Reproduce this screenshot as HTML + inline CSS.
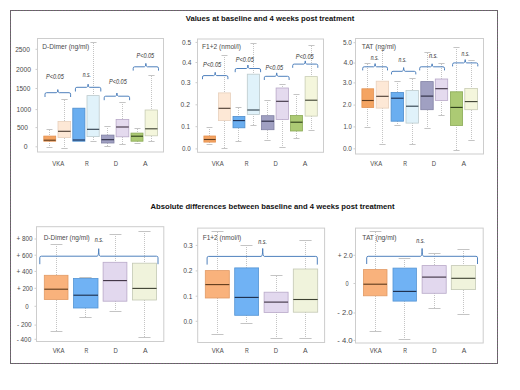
<!DOCTYPE html>
<html><head><meta charset="utf-8"><style>html,body{margin:0;padding:0;background:#fff;width:520px;height:390px;overflow:hidden;}svg{display:block;font-family:"Liberation Sans", sans-serif;}</style></head><body>
<svg width="520" height="390" viewBox="0 0 520 390" font-family='"Liberation Sans", sans-serif'>
<rect width="520" height="390" fill="#fff"/>
<rect x="10.5" y="10.5" width="487" height="353" fill="none" stroke="#5f6f5f" stroke-width="1"/>
<rect x="10.5" y="10.5" width="487" height="353" fill="none" stroke="#7a5a7a" stroke-width="1" stroke-dasharray="1.5 1.5"/>
<rect x="37.5" y="38.5" width="126" height="113.5" fill="none" stroke="#cdcdcd" stroke-width="1"/>
<rect x="197.5" y="39" width="126" height="113.3" fill="none" stroke="#cdcdcd" stroke-width="1"/>
<rect x="355.5" y="38.5" width="128" height="115.5" fill="none" stroke="#cdcdcd" stroke-width="1"/>
<rect x="36.5" y="226.7" width="127.3" height="114.8" fill="none" stroke="#cdcdcd" stroke-width="1"/>
<rect x="197.7" y="228.1" width="126.9" height="114.4" fill="none" stroke="#cdcdcd" stroke-width="1"/>
<rect x="355.5" y="228.1" width="127.7" height="114.9" fill="none" stroke="#cdcdcd" stroke-width="1"/>
<line x1="35.5" y1="49.3" x2="37.5" y2="49.3" stroke="#cdcdcd" stroke-width="1"/>
<text x="15.2" y="51.65" font-size="6.8" text-anchor="start" fill="#4a4a4a" font-weight="normal" font-style="normal" textLength="14.7" lengthAdjust="spacingAndGlyphs">2500</text>
<line x1="35.5" y1="69.4" x2="37.5" y2="69.4" stroke="#cdcdcd" stroke-width="1"/>
<text x="16.1" y="71.75" font-size="6.8" text-anchor="start" fill="#4a4a4a" font-weight="normal" font-style="normal" textLength="15" lengthAdjust="spacingAndGlyphs">2000</text>
<line x1="35.5" y1="88.5" x2="37.5" y2="88.5" stroke="#cdcdcd" stroke-width="1"/>
<text x="15.9" y="90.85" font-size="6.8" text-anchor="start" fill="#4a4a4a" font-weight="normal" font-style="normal" textLength="14.4" lengthAdjust="spacingAndGlyphs">1500</text>
<line x1="35.5" y1="109.6" x2="37.5" y2="109.6" stroke="#cdcdcd" stroke-width="1"/>
<text x="16.6" y="111.95" font-size="6.8" text-anchor="start" fill="#4a4a4a" font-weight="normal" font-style="normal" textLength="14.4" lengthAdjust="spacingAndGlyphs">1000</text>
<line x1="35.5" y1="127.6" x2="37.5" y2="127.6" stroke="#cdcdcd" stroke-width="1"/>
<text x="16.9" y="129.95" font-size="6.8" text-anchor="start" fill="#4a4a4a" font-weight="normal" font-style="normal" textLength="11" lengthAdjust="spacingAndGlyphs">500</text>
<line x1="35.5" y1="146.8" x2="37.5" y2="146.8" stroke="#cdcdcd" stroke-width="1"/>
<text x="23.8" y="149.15" font-size="6.8" text-anchor="start" fill="#4a4a4a" font-weight="normal" font-style="normal" textLength="3.8" lengthAdjust="spacingAndGlyphs">0</text>
<line x1="195.5" y1="42.4" x2="197.5" y2="42.4" stroke="#cdcdcd" stroke-width="1"/>
<text x="182" y="44.75" font-size="6.8" text-anchor="start" fill="#4a4a4a" font-weight="normal" font-style="normal" textLength="9.1" lengthAdjust="spacingAndGlyphs">0.5</text>
<line x1="195.5" y1="62.5" x2="197.5" y2="62.5" stroke="#cdcdcd" stroke-width="1"/>
<text x="182.2" y="64.85" font-size="6.8" text-anchor="start" fill="#4a4a4a" font-weight="normal" font-style="normal" textLength="9.2" lengthAdjust="spacingAndGlyphs">0.4</text>
<line x1="195.5" y1="82.7" x2="197.5" y2="82.7" stroke="#cdcdcd" stroke-width="1"/>
<text x="181" y="85.05" font-size="6.8" text-anchor="start" fill="#4a4a4a" font-weight="normal" font-style="normal" textLength="9.4" lengthAdjust="spacingAndGlyphs">0.3</text>
<line x1="195.5" y1="104.8" x2="197.5" y2="104.8" stroke="#cdcdcd" stroke-width="1"/>
<text x="180.6" y="107.15" font-size="6.8" text-anchor="start" fill="#4a4a4a" font-weight="normal" font-style="normal" textLength="9.3" lengthAdjust="spacingAndGlyphs">0.2</text>
<line x1="195.5" y1="126.7" x2="197.5" y2="126.7" stroke="#cdcdcd" stroke-width="1"/>
<text x="181.3" y="129.05" font-size="6.8" text-anchor="start" fill="#4a4a4a" font-weight="normal" font-style="normal" textLength="8.7" lengthAdjust="spacingAndGlyphs">0.1</text>
<line x1="195.5" y1="148.9" x2="197.5" y2="148.9" stroke="#cdcdcd" stroke-width="1"/>
<text x="182.1" y="151.25" font-size="6.8" text-anchor="start" fill="#4a4a4a" font-weight="normal" font-style="normal" textLength="8.7" lengthAdjust="spacingAndGlyphs">0.0</text>
<line x1="353.5" y1="42.7" x2="355.5" y2="42.7" stroke="#cdcdcd" stroke-width="1"/>
<text x="343" y="45.05" font-size="6.8" text-anchor="start" fill="#4a4a4a" font-weight="normal" font-style="normal" textLength="8.9" lengthAdjust="spacingAndGlyphs">5.0</text>
<line x1="353.5" y1="63.1" x2="355.5" y2="63.1" stroke="#cdcdcd" stroke-width="1"/>
<text x="343.5" y="65.45" font-size="6.8" text-anchor="start" fill="#4a4a4a" font-weight="normal" font-style="normal" textLength="9.5" lengthAdjust="spacingAndGlyphs">4.0</text>
<line x1="353.5" y1="82.9" x2="355.5" y2="82.9" stroke="#cdcdcd" stroke-width="1"/>
<text x="342.7" y="85.25" font-size="6.8" text-anchor="start" fill="#4a4a4a" font-weight="normal" font-style="normal" textLength="9.2" lengthAdjust="spacingAndGlyphs">3.0</text>
<line x1="353.5" y1="105.1" x2="355.5" y2="105.1" stroke="#cdcdcd" stroke-width="1"/>
<text x="342.7" y="107.45" font-size="6.8" text-anchor="start" fill="#4a4a4a" font-weight="normal" font-style="normal" textLength="8.7" lengthAdjust="spacingAndGlyphs">2.0</text>
<line x1="353.5" y1="126.9" x2="355.5" y2="126.9" stroke="#cdcdcd" stroke-width="1"/>
<text x="343.5" y="129.25" font-size="6.8" text-anchor="start" fill="#4a4a4a" font-weight="normal" font-style="normal" textLength="8.4" lengthAdjust="spacingAndGlyphs">1.0</text>
<line x1="353.5" y1="148.8" x2="355.5" y2="148.8" stroke="#cdcdcd" stroke-width="1"/>
<text x="343" y="151.15" font-size="6.8" text-anchor="start" fill="#4a4a4a" font-weight="normal" font-style="normal" textLength="8.9" lengthAdjust="spacingAndGlyphs">0.0</text>
<line x1="34.5" y1="239" x2="36.5" y2="239" stroke="#cdcdcd" stroke-width="1"/>
<text x="16.5" y="241.35" font-size="6.8" text-anchor="start" fill="#4a4a4a" font-weight="normal" font-style="normal" textLength="16" lengthAdjust="spacingAndGlyphs">+ 800</text>
<line x1="34.5" y1="255.2" x2="36.5" y2="255.2" stroke="#cdcdcd" stroke-width="1"/>
<text x="16.5" y="257.55" font-size="6.8" text-anchor="start" fill="#4a4a4a" font-weight="normal" font-style="normal" textLength="16" lengthAdjust="spacingAndGlyphs">+ 600</text>
<line x1="34.5" y1="271.4" x2="36.5" y2="271.4" stroke="#cdcdcd" stroke-width="1"/>
<text x="16.5" y="273.75" font-size="6.8" text-anchor="start" fill="#4a4a4a" font-weight="normal" font-style="normal" textLength="16" lengthAdjust="spacingAndGlyphs">+ 400</text>
<line x1="34.5" y1="288.3" x2="36.5" y2="288.3" stroke="#cdcdcd" stroke-width="1"/>
<text x="17" y="290.65" font-size="6.8" text-anchor="start" fill="#4a4a4a" font-weight="normal" font-style="normal" textLength="15.8" lengthAdjust="spacingAndGlyphs">+ 200</text>
<line x1="34.5" y1="306.3" x2="36.5" y2="306.3" stroke="#cdcdcd" stroke-width="1"/>
<text x="25.3" y="308.65" font-size="6.8" text-anchor="start" fill="#4a4a4a" font-weight="normal" font-style="normal" textLength="3.4" lengthAdjust="spacingAndGlyphs">0</text>
<line x1="34.5" y1="325.1" x2="36.5" y2="325.1" stroke="#cdcdcd" stroke-width="1"/>
<text x="17" y="327.45" font-size="6.8" text-anchor="start" fill="#4a4a4a" font-weight="normal" font-style="normal" textLength="14.7" lengthAdjust="spacingAndGlyphs">- 200</text>
<line x1="34.5" y1="339.3" x2="36.5" y2="339.3" stroke="#cdcdcd" stroke-width="1"/>
<text x="16.7" y="341.65" font-size="6.8" text-anchor="start" fill="#4a4a4a" font-weight="normal" font-style="normal" textLength="14.5" lengthAdjust="spacingAndGlyphs">- 400</text>
<line x1="195.7" y1="245.4" x2="197.7" y2="245.4" stroke="#cdcdcd" stroke-width="1"/>
<text x="183.5" y="247.75" font-size="6.8" text-anchor="start" fill="#4a4a4a" font-weight="normal" font-style="normal" textLength="9.1" lengthAdjust="spacingAndGlyphs">0.3</text>
<line x1="195.7" y1="270.9" x2="197.7" y2="270.9" stroke="#cdcdcd" stroke-width="1"/>
<text x="183.3" y="273.25" font-size="6.8" text-anchor="start" fill="#4a4a4a" font-weight="normal" font-style="normal" textLength="9.1" lengthAdjust="spacingAndGlyphs">0.2</text>
<line x1="195.7" y1="296.2" x2="197.7" y2="296.2" stroke="#cdcdcd" stroke-width="1"/>
<text x="183.3" y="298.55" font-size="6.8" text-anchor="start" fill="#4a4a4a" font-weight="normal" font-style="normal" textLength="8.9" lengthAdjust="spacingAndGlyphs">0.1</text>
<line x1="195.7" y1="321.3" x2="197.7" y2="321.3" stroke="#cdcdcd" stroke-width="1"/>
<text x="183.5" y="323.65" font-size="6.8" text-anchor="start" fill="#4a4a4a" font-weight="normal" font-style="normal" textLength="8.9" lengthAdjust="spacingAndGlyphs">0.0</text>
<line x1="353.5" y1="255.3" x2="355.5" y2="255.3" stroke="#cdcdcd" stroke-width="1"/>
<text x="337.7" y="257.65" font-size="6.8" text-anchor="start" fill="#4a4a4a" font-weight="normal" font-style="normal" textLength="14.9" lengthAdjust="spacingAndGlyphs">+ 2.0</text>
<line x1="353.5" y1="283.5" x2="355.5" y2="283.5" stroke="#cdcdcd" stroke-width="1"/>
<text x="345.4" y="285.85" font-size="6.8" text-anchor="start" fill="#4a4a4a" font-weight="normal" font-style="normal" textLength="3.1" lengthAdjust="spacingAndGlyphs">0</text>
<line x1="353.5" y1="313" x2="355.5" y2="313" stroke="#cdcdcd" stroke-width="1"/>
<text x="337.2" y="315.35" font-size="6.8" text-anchor="start" fill="#4a4a4a" font-weight="normal" font-style="normal" textLength="15.4" lengthAdjust="spacingAndGlyphs">- 2.0</text>
<line x1="353.5" y1="340.4" x2="355.5" y2="340.4" stroke="#cdcdcd" stroke-width="1"/>
<text x="337.2" y="342.75" font-size="6.8" text-anchor="start" fill="#4a4a4a" font-weight="normal" font-style="normal" textLength="15.4" lengthAdjust="spacingAndGlyphs">- 4.0</text>
<text x="52.35" y="166.35" font-size="6.8" text-anchor="start" fill="#4a4a4a" font-weight="normal" font-style="normal" textLength="11.9" lengthAdjust="spacingAndGlyphs">VKA</text>
<text x="85.1" y="166.35" font-size="6.8" text-anchor="start" fill="#4a4a4a" font-weight="normal" font-style="normal" textLength="3.8" lengthAdjust="spacingAndGlyphs">R</text>
<text x="113.85" y="166.35" font-size="6.8" text-anchor="start" fill="#4a4a4a" font-weight="normal" font-style="normal" textLength="4.3" lengthAdjust="spacingAndGlyphs">D</text>
<text x="143.1" y="166.35" font-size="6.8" text-anchor="start" fill="#4a4a4a" font-weight="normal" font-style="normal" textLength="4.6" lengthAdjust="spacingAndGlyphs">A</text>
<text x="211.75" y="166.35" font-size="6.8" text-anchor="start" fill="#4a4a4a" font-weight="normal" font-style="normal" textLength="11.9" lengthAdjust="spacingAndGlyphs">VKA</text>
<text x="244.7" y="166.35" font-size="6.8" text-anchor="start" fill="#4a4a4a" font-weight="normal" font-style="normal" textLength="3.8" lengthAdjust="spacingAndGlyphs">R</text>
<text x="273.55" y="166.35" font-size="6.8" text-anchor="start" fill="#4a4a4a" font-weight="normal" font-style="normal" textLength="4.3" lengthAdjust="spacingAndGlyphs">D</text>
<text x="302.8" y="166.35" font-size="6.8" text-anchor="start" fill="#4a4a4a" font-weight="normal" font-style="normal" textLength="4.6" lengthAdjust="spacingAndGlyphs">A</text>
<text x="370.35" y="166.35" font-size="6.8" text-anchor="start" fill="#4a4a4a" font-weight="normal" font-style="normal" textLength="11.9" lengthAdjust="spacingAndGlyphs">VKA</text>
<text x="403.2" y="166.35" font-size="6.8" text-anchor="start" fill="#4a4a4a" font-weight="normal" font-style="normal" textLength="3.8" lengthAdjust="spacingAndGlyphs">R</text>
<text x="431.65" y="166.35" font-size="6.8" text-anchor="start" fill="#4a4a4a" font-weight="normal" font-style="normal" textLength="4.3" lengthAdjust="spacingAndGlyphs">D</text>
<text x="461.5" y="166.35" font-size="6.8" text-anchor="start" fill="#4a4a4a" font-weight="normal" font-style="normal" textLength="4.6" lengthAdjust="spacingAndGlyphs">A</text>
<text x="52.65" y="353.35" font-size="6.8" text-anchor="start" fill="#4a4a4a" font-weight="normal" font-style="normal" textLength="11.9" lengthAdjust="spacingAndGlyphs">VKA</text>
<text x="84.6" y="353.35" font-size="6.8" text-anchor="start" fill="#4a4a4a" font-weight="normal" font-style="normal" textLength="3.8" lengthAdjust="spacingAndGlyphs">R</text>
<text x="113.45" y="353.35" font-size="6.8" text-anchor="start" fill="#4a4a4a" font-weight="normal" font-style="normal" textLength="4.3" lengthAdjust="spacingAndGlyphs">D</text>
<text x="143.1" y="353.35" font-size="6.8" text-anchor="start" fill="#4a4a4a" font-weight="normal" font-style="normal" textLength="4.6" lengthAdjust="spacingAndGlyphs">A</text>
<text x="211.85" y="353.35" font-size="6.8" text-anchor="start" fill="#4a4a4a" font-weight="normal" font-style="normal" textLength="11.9" lengthAdjust="spacingAndGlyphs">VKA</text>
<text x="244.9" y="353.35" font-size="6.8" text-anchor="start" fill="#4a4a4a" font-weight="normal" font-style="normal" textLength="3.8" lengthAdjust="spacingAndGlyphs">R</text>
<text x="273.75" y="353.35" font-size="6.8" text-anchor="start" fill="#4a4a4a" font-weight="normal" font-style="normal" textLength="4.3" lengthAdjust="spacingAndGlyphs">D</text>
<text x="302.9" y="353.35" font-size="6.8" text-anchor="start" fill="#4a4a4a" font-weight="normal" font-style="normal" textLength="4.6" lengthAdjust="spacingAndGlyphs">A</text>
<text x="369.85" y="353.35" font-size="6.8" text-anchor="start" fill="#4a4a4a" font-weight="normal" font-style="normal" textLength="11.9" lengthAdjust="spacingAndGlyphs">VKA</text>
<text x="403.2" y="353.35" font-size="6.8" text-anchor="start" fill="#4a4a4a" font-weight="normal" font-style="normal" textLength="3.8" lengthAdjust="spacingAndGlyphs">R</text>
<text x="432.25" y="353.35" font-size="6.8" text-anchor="start" fill="#4a4a4a" font-weight="normal" font-style="normal" textLength="4.3" lengthAdjust="spacingAndGlyphs">D</text>
<text x="461.7" y="353.35" font-size="6.8" text-anchor="start" fill="#4a4a4a" font-weight="normal" font-style="normal" textLength="4.6" lengthAdjust="spacingAndGlyphs">A</text>
<text x="42.3" y="49.25" font-size="6.8" text-anchor="start" fill="#4a4a4a" font-weight="normal" font-style="normal" textLength="46.9" lengthAdjust="spacingAndGlyphs">D-Dimer (ng/ml)</text>
<text x="202.1" y="49.25" font-size="6.8" text-anchor="start" fill="#4a4a4a" font-weight="normal" font-style="normal" textLength="38.9" lengthAdjust="spacingAndGlyphs">F1+2 (nmol/l)</text>
<text x="361.8" y="49.05" font-size="6.8" text-anchor="start" fill="#4a4a4a" font-weight="normal" font-style="normal" textLength="34.2" lengthAdjust="spacingAndGlyphs">TAT (ng/ml)</text>
<text x="43.7" y="240.05" font-size="6.8" text-anchor="start" fill="#4a4a4a" font-weight="normal" font-style="normal" textLength="46.1" lengthAdjust="spacingAndGlyphs">D-Dimer (ng/ml)</text>
<text x="202.7" y="240.05" font-size="6.8" text-anchor="start" fill="#4a4a4a" font-weight="normal" font-style="normal" textLength="38.6" lengthAdjust="spacingAndGlyphs">F1+2 (nmol/l)</text>
<text x="362.3" y="240.05" font-size="6.8" text-anchor="start" fill="#4a4a4a" font-weight="normal" font-style="normal" textLength="34.2" lengthAdjust="spacingAndGlyphs">TAT (ng/ml)</text>
<line x1="49.5" y1="130" x2="49.5" y2="136.1" stroke="#c4c4c4" stroke-width="1" stroke-dasharray="1 1"/>
<line x1="46.52" y1="129.5" x2="52.48" y2="129.5" stroke="#c4c4c4" stroke-width="1"/>
<line x1="49.5" y1="141" x2="49.5" y2="147" stroke="#c4c4c4" stroke-width="1" stroke-dasharray="1 1"/>
<line x1="46.52" y1="147.5" x2="52.48" y2="147.5" stroke="#c4c4c4" stroke-width="1"/>
<rect x="43.8" y="136.1" width="11.9" height="5.1" fill="#f4a462" stroke="#e39050" stroke-width="0.8"/>
<line x1="43.8" y1="140.2" x2="55.7" y2="140.2" stroke="#5e3a1c" stroke-width="1.1"/>
<line x1="64.5" y1="100" x2="64.5" y2="121.5" stroke="#c4c4c4" stroke-width="1" stroke-dasharray="1 1"/>
<line x1="61.35" y1="99.5" x2="67.65" y2="99.5" stroke="#c4c4c4" stroke-width="1"/>
<line x1="64.5" y1="138" x2="64.5" y2="148" stroke="#c4c4c4" stroke-width="1" stroke-dasharray="1 1"/>
<line x1="61.35" y1="148.5" x2="67.65" y2="148.5" stroke="#c4c4c4" stroke-width="1"/>
<rect x="58" y="121.5" width="12.6" height="16" fill="#fde8d6" stroke="#e8d0bc" stroke-width="0.8"/>
<line x1="58" y1="131.3" x2="70.6" y2="131.3" stroke="#4a3a30" stroke-width="1.1"/>
<rect x="72.8" y="108.2" width="12.1" height="33" fill="#6aaef0" stroke="#4c8ccc" stroke-width="0.8"/>
<line x1="72.8" y1="140" x2="84.9" y2="140" stroke="#1c2c50" stroke-width="1.1"/>
<line x1="93.5" y1="43" x2="93.5" y2="95.6" stroke="#c4c4c4" stroke-width="1" stroke-dasharray="1 1"/>
<line x1="90.45" y1="42.5" x2="96.55" y2="42.5" stroke="#c4c4c4" stroke-width="1"/>
<line x1="93.5" y1="137" x2="93.5" y2="141.2" stroke="#c4c4c4" stroke-width="1" stroke-dasharray="1 1"/>
<line x1="90.45" y1="141.5" x2="96.55" y2="141.5" stroke="#c4c4c4" stroke-width="1"/>
<rect x="87" y="95.6" width="12.2" height="41" fill="#e0f2fa" stroke="#bccacc" stroke-width="0.8"/>
<line x1="87" y1="129.3" x2="99.2" y2="129.3" stroke="#2c3c48" stroke-width="1.1"/>
<line x1="107.5" y1="126" x2="107.5" y2="135.1" stroke="#c4c4c4" stroke-width="1" stroke-dasharray="1 1"/>
<line x1="104.38" y1="126.5" x2="110.62" y2="126.5" stroke="#c4c4c4" stroke-width="1"/>
<line x1="107.5" y1="143" x2="107.5" y2="146.2" stroke="#c4c4c4" stroke-width="1" stroke-dasharray="1 1"/>
<line x1="104.38" y1="146.5" x2="110.62" y2="146.5" stroke="#c4c4c4" stroke-width="1"/>
<rect x="101.5" y="135.1" width="12.5" height="7.9" fill="#a0a0c2" stroke="#8080a4" stroke-width="0.8"/>
<line x1="101.5" y1="139.7" x2="114" y2="139.7" stroke="#2a2a40" stroke-width="1.1"/>
<line x1="122.5" y1="102" x2="122.5" y2="119.4" stroke="#c4c4c4" stroke-width="1" stroke-dasharray="1 1"/>
<line x1="119.32" y1="102.5" x2="125.68" y2="102.5" stroke="#c4c4c4" stroke-width="1"/>
<line x1="122.5" y1="137" x2="122.5" y2="144" stroke="#c4c4c4" stroke-width="1" stroke-dasharray="1 1"/>
<line x1="119.32" y1="144.5" x2="125.68" y2="144.5" stroke="#c4c4c4" stroke-width="1"/>
<rect x="116.1" y="119.4" width="12.7" height="17.4" fill="#e4daee" stroke="#b8a8c8" stroke-width="0.8"/>
<line x1="116.1" y1="127" x2="128.8" y2="127" stroke="#3c3040" stroke-width="1.1"/>
<line x1="137.5" y1="129" x2="137.5" y2="133.1" stroke="#c4c4c4" stroke-width="1" stroke-dasharray="1 1"/>
<line x1="134.5" y1="128.5" x2="140.5" y2="128.5" stroke="#c4c4c4" stroke-width="1"/>
<line x1="137.5" y1="141" x2="137.5" y2="143" stroke="#c4c4c4" stroke-width="1" stroke-dasharray="1 1"/>
<line x1="134.5" y1="143.5" x2="140.5" y2="143.5" stroke="#c4c4c4" stroke-width="1"/>
<rect x="131" y="133.1" width="12" height="8.1" fill="#acca74" stroke="#8aaa56" stroke-width="0.8"/>
<line x1="131" y1="136.2" x2="143" y2="136.2" stroke="#2c3c18" stroke-width="1.1"/>
<line x1="151.5" y1="76" x2="151.5" y2="110" stroke="#c4c4c4" stroke-width="1" stroke-dasharray="1 1"/>
<line x1="148.4" y1="75.5" x2="154.6" y2="75.5" stroke="#c4c4c4" stroke-width="1"/>
<line x1="151.5" y1="136" x2="151.5" y2="141.2" stroke="#c4c4c4" stroke-width="1" stroke-dasharray="1 1"/>
<line x1="148.4" y1="141.5" x2="154.6" y2="141.5" stroke="#c4c4c4" stroke-width="1"/>
<rect x="145.1" y="110" width="12.4" height="25.8" fill="#f4f6dc" stroke="#c8ccb4" stroke-width="0.8"/>
<line x1="145.1" y1="128.8" x2="157.5" y2="128.8" stroke="#3c4030" stroke-width="1.1"/>
<line x1="209.5" y1="127" x2="209.5" y2="136" stroke="#c4c4c4" stroke-width="1" stroke-dasharray="1 1"/>
<line x1="206.57" y1="127.5" x2="212.43" y2="127.5" stroke="#c4c4c4" stroke-width="1"/>
<line x1="209.5" y1="142" x2="209.5" y2="144.8" stroke="#c4c4c4" stroke-width="1" stroke-dasharray="1 1"/>
<line x1="206.57" y1="144.5" x2="212.43" y2="144.5" stroke="#c4c4c4" stroke-width="1"/>
<rect x="203.9" y="136" width="11.7" height="6.1" fill="#f4a462" stroke="#e39050" stroke-width="0.8"/>
<line x1="203.9" y1="139.5" x2="215.6" y2="139.5" stroke="#5e3a1c" stroke-width="1.1"/>
<line x1="224.5" y1="55" x2="224.5" y2="92.9" stroke="#c4c4c4" stroke-width="1" stroke-dasharray="1 1"/>
<line x1="221.5" y1="55.5" x2="227.5" y2="55.5" stroke="#c4c4c4" stroke-width="1"/>
<line x1="224.5" y1="121" x2="224.5" y2="148.3" stroke="#c4c4c4" stroke-width="1" stroke-dasharray="1 1"/>
<line x1="221.5" y1="148.5" x2="227.5" y2="148.5" stroke="#c4c4c4" stroke-width="1"/>
<rect x="218.5" y="92.9" width="12" height="27.7" fill="#fde8d6" stroke="#e8d0bc" stroke-width="0.8"/>
<line x1="218.5" y1="108.3" x2="230.5" y2="108.3" stroke="#4a3a30" stroke-width="1.1"/>
<line x1="238.5" y1="108" x2="238.5" y2="116.5" stroke="#c4c4c4" stroke-width="1" stroke-dasharray="1 1"/>
<line x1="235.53" y1="107.5" x2="241.47" y2="107.5" stroke="#c4c4c4" stroke-width="1"/>
<line x1="238.5" y1="128" x2="238.5" y2="141.1" stroke="#c4c4c4" stroke-width="1" stroke-dasharray="1 1"/>
<line x1="235.53" y1="141.5" x2="241.47" y2="141.5" stroke="#c4c4c4" stroke-width="1"/>
<rect x="233" y="116.5" width="11.9" height="11.3" fill="#6aaef0" stroke="#4c8ccc" stroke-width="0.8"/>
<line x1="233" y1="120.6" x2="244.9" y2="120.6" stroke="#1c2c50" stroke-width="1.1"/>
<line x1="253.5" y1="44" x2="253.5" y2="74.2" stroke="#c4c4c4" stroke-width="1" stroke-dasharray="1 1"/>
<line x1="250.45" y1="43.5" x2="256.55" y2="43.5" stroke="#c4c4c4" stroke-width="1"/>
<line x1="253.5" y1="114" x2="253.5" y2="125.7" stroke="#c4c4c4" stroke-width="1" stroke-dasharray="1 1"/>
<line x1="250.45" y1="125.5" x2="256.55" y2="125.5" stroke="#c4c4c4" stroke-width="1"/>
<rect x="247.3" y="74.2" width="12.2" height="40.3" fill="#e0f2fa" stroke="#bccacc" stroke-width="0.8"/>
<line x1="247.3" y1="110" x2="259.5" y2="110" stroke="#2c3c48" stroke-width="1.1"/>
<line x1="267.5" y1="100" x2="267.5" y2="115.7" stroke="#c4c4c4" stroke-width="1" stroke-dasharray="1 1"/>
<line x1="264.38" y1="100.5" x2="270.62" y2="100.5" stroke="#c4c4c4" stroke-width="1"/>
<line x1="267.5" y1="130" x2="267.5" y2="140.5" stroke="#c4c4c4" stroke-width="1" stroke-dasharray="1 1"/>
<line x1="264.38" y1="140.5" x2="270.62" y2="140.5" stroke="#c4c4c4" stroke-width="1"/>
<rect x="261.5" y="115.7" width="12.5" height="14" fill="#a0a0c2" stroke="#8080a4" stroke-width="0.8"/>
<line x1="261.5" y1="121.2" x2="274" y2="121.2" stroke="#2a2a40" stroke-width="1.1"/>
<line x1="282.5" y1="84" x2="282.5" y2="88" stroke="#c4c4c4" stroke-width="1" stroke-dasharray="1 1"/>
<line x1="279.4" y1="84.5" x2="285.6" y2="84.5" stroke="#c4c4c4" stroke-width="1"/>
<line x1="282.5" y1="119" x2="282.5" y2="147.1" stroke="#c4c4c4" stroke-width="1" stroke-dasharray="1 1"/>
<line x1="279.4" y1="147.5" x2="285.6" y2="147.5" stroke="#c4c4c4" stroke-width="1"/>
<rect x="276.1" y="88" width="12.4" height="31.4" fill="#e4daee" stroke="#b8a8c8" stroke-width="0.8"/>
<line x1="276.1" y1="101.3" x2="288.5" y2="101.3" stroke="#3c3040" stroke-width="1.1"/>
<line x1="296.5" y1="94" x2="296.5" y2="115.5" stroke="#c4c4c4" stroke-width="1" stroke-dasharray="1 1"/>
<line x1="293.5" y1="94.5" x2="299.5" y2="94.5" stroke="#c4c4c4" stroke-width="1"/>
<line x1="296.5" y1="131" x2="296.5" y2="138" stroke="#c4c4c4" stroke-width="1" stroke-dasharray="1 1"/>
<line x1="293.5" y1="138.5" x2="299.5" y2="138.5" stroke="#c4c4c4" stroke-width="1"/>
<rect x="290.5" y="115.5" width="12" height="15.5" fill="#acca74" stroke="#8aaa56" stroke-width="0.8"/>
<line x1="290.5" y1="122.2" x2="302.5" y2="122.2" stroke="#2c3c18" stroke-width="1.1"/>
<line x1="311.5" y1="46" x2="311.5" y2="76.6" stroke="#c4c4c4" stroke-width="1" stroke-dasharray="1 1"/>
<line x1="308.45" y1="45.5" x2="314.55" y2="45.5" stroke="#c4c4c4" stroke-width="1"/>
<line x1="311.5" y1="116" x2="311.5" y2="130.3" stroke="#c4c4c4" stroke-width="1" stroke-dasharray="1 1"/>
<line x1="308.45" y1="130.5" x2="314.55" y2="130.5" stroke="#c4c4c4" stroke-width="1"/>
<rect x="305.1" y="76.6" width="12.2" height="39.5" fill="#f4f6dc" stroke="#c8ccb4" stroke-width="0.8"/>
<line x1="305.1" y1="100.2" x2="317.3" y2="100.2" stroke="#3c4030" stroke-width="1.1"/>
<line x1="367.5" y1="64" x2="367.5" y2="88.8" stroke="#c4c4c4" stroke-width="1" stroke-dasharray="1 1"/>
<line x1="364.55" y1="63.5" x2="370.45" y2="63.5" stroke="#c4c4c4" stroke-width="1"/>
<line x1="367.5" y1="107" x2="367.5" y2="127.2" stroke="#c4c4c4" stroke-width="1" stroke-dasharray="1 1"/>
<line x1="364.55" y1="127.5" x2="370.45" y2="127.5" stroke="#c4c4c4" stroke-width="1"/>
<rect x="361.9" y="88.8" width="11.8" height="18.6" fill="#f4a462" stroke="#e39050" stroke-width="0.8"/>
<line x1="361.9" y1="100.5" x2="373.7" y2="100.5" stroke="#5e3a1c" stroke-width="1.1"/>
<line x1="382.5" y1="47" x2="382.5" y2="81.2" stroke="#c4c4c4" stroke-width="1" stroke-dasharray="1 1"/>
<line x1="379.4" y1="47.5" x2="385.6" y2="47.5" stroke="#c4c4c4" stroke-width="1"/>
<line x1="382.5" y1="108" x2="382.5" y2="144.3" stroke="#c4c4c4" stroke-width="1" stroke-dasharray="1 1"/>
<line x1="379.4" y1="144.5" x2="385.6" y2="144.5" stroke="#c4c4c4" stroke-width="1"/>
<rect x="376.2" y="81.2" width="12.4" height="26.9" fill="#fde8d6" stroke="#e8d0bc" stroke-width="0.8"/>
<line x1="376.2" y1="96.3" x2="388.6" y2="96.3" stroke="#4a3a30" stroke-width="1.1"/>
<line x1="397.5" y1="81" x2="397.5" y2="92.5" stroke="#c4c4c4" stroke-width="1" stroke-dasharray="1 1"/>
<line x1="394.4" y1="81.5" x2="400.6" y2="81.5" stroke="#c4c4c4" stroke-width="1"/>
<line x1="397.5" y1="121" x2="397.5" y2="125.4" stroke="#c4c4c4" stroke-width="1" stroke-dasharray="1 1"/>
<line x1="394.4" y1="125.5" x2="400.6" y2="125.5" stroke="#c4c4c4" stroke-width="1"/>
<rect x="391.1" y="92.5" width="12.4" height="28.7" fill="#6aaef0" stroke="#4c8ccc" stroke-width="0.8"/>
<line x1="391.1" y1="98.2" x2="403.5" y2="98.2" stroke="#1c2c50" stroke-width="1.1"/>
<line x1="412.5" y1="79" x2="412.5" y2="90.5" stroke="#c4c4c4" stroke-width="1" stroke-dasharray="1 1"/>
<line x1="409.4" y1="78.5" x2="415.6" y2="78.5" stroke="#c4c4c4" stroke-width="1"/>
<line x1="412.5" y1="123" x2="412.5" y2="144.3" stroke="#c4c4c4" stroke-width="1" stroke-dasharray="1 1"/>
<line x1="409.4" y1="144.5" x2="415.6" y2="144.5" stroke="#c4c4c4" stroke-width="1"/>
<rect x="406" y="90.5" width="12.4" height="32.6" fill="#e0f2fa" stroke="#bccacc" stroke-width="0.8"/>
<line x1="406" y1="106.2" x2="418.4" y2="106.2" stroke="#2c3c48" stroke-width="1.1"/>
<line x1="427.5" y1="53" x2="427.5" y2="81.6" stroke="#c4c4c4" stroke-width="1" stroke-dasharray="1 1"/>
<line x1="424.4" y1="52.5" x2="430.6" y2="52.5" stroke="#c4c4c4" stroke-width="1"/>
<line x1="427.5" y1="110" x2="427.5" y2="128.8" stroke="#c4c4c4" stroke-width="1" stroke-dasharray="1 1"/>
<line x1="424.4" y1="128.5" x2="430.6" y2="128.5" stroke="#c4c4c4" stroke-width="1"/>
<rect x="420.8" y="81.6" width="12.4" height="28.1" fill="#a0a0c2" stroke="#8080a4" stroke-width="0.8"/>
<line x1="420.8" y1="96.1" x2="433.2" y2="96.1" stroke="#2a2a40" stroke-width="1.1"/>
<line x1="441.5" y1="64" x2="441.5" y2="79" stroke="#c4c4c4" stroke-width="1" stroke-dasharray="1 1"/>
<line x1="438.4" y1="63.5" x2="444.6" y2="63.5" stroke="#c4c4c4" stroke-width="1"/>
<line x1="441.5" y1="100" x2="441.5" y2="115.5" stroke="#c4c4c4" stroke-width="1" stroke-dasharray="1 1"/>
<line x1="438.4" y1="115.5" x2="444.6" y2="115.5" stroke="#c4c4c4" stroke-width="1"/>
<rect x="435.3" y="79" width="12.4" height="21.5" fill="#e4daee" stroke="#b8a8c8" stroke-width="0.8"/>
<line x1="435.3" y1="88.7" x2="447.7" y2="88.7" stroke="#3c3040" stroke-width="1.1"/>
<line x1="456.5" y1="47" x2="456.5" y2="91.8" stroke="#c4c4c4" stroke-width="1" stroke-dasharray="1 1"/>
<line x1="453.45" y1="47.5" x2="459.55" y2="47.5" stroke="#c4c4c4" stroke-width="1"/>
<line x1="456.5" y1="125" x2="456.5" y2="150" stroke="#c4c4c4" stroke-width="1" stroke-dasharray="1 1"/>
<line x1="453.45" y1="150.5" x2="459.55" y2="150.5" stroke="#c4c4c4" stroke-width="1"/>
<rect x="450.4" y="91.8" width="12.2" height="33.6" fill="#acca74" stroke="#8aaa56" stroke-width="0.8"/>
<line x1="450.4" y1="107.4" x2="462.6" y2="107.4" stroke="#2c3c18" stroke-width="1.1"/>
<line x1="471.5" y1="60" x2="471.5" y2="88.4" stroke="#c4c4c4" stroke-width="1" stroke-dasharray="1 1"/>
<line x1="468.32" y1="60.5" x2="474.68" y2="60.5" stroke="#c4c4c4" stroke-width="1"/>
<line x1="471.5" y1="110" x2="471.5" y2="140.4" stroke="#c4c4c4" stroke-width="1" stroke-dasharray="1 1"/>
<line x1="468.32" y1="140.5" x2="474.68" y2="140.5" stroke="#c4c4c4" stroke-width="1"/>
<rect x="464.8" y="88.4" width="12.7" height="21.3" fill="#f4f6dc" stroke="#c8ccb4" stroke-width="0.8"/>
<line x1="464.8" y1="101.6" x2="477.5" y2="101.6" stroke="#3c4030" stroke-width="1.1"/>
<line x1="56.5" y1="244" x2="56.5" y2="275.3" stroke="#c4c4c4" stroke-width="1" stroke-dasharray="1 1"/>
<line x1="50.58" y1="244.5" x2="62.42" y2="244.5" stroke="#c4c4c4" stroke-width="1"/>
<line x1="56.5" y1="300" x2="56.5" y2="331.3" stroke="#c4c4c4" stroke-width="1" stroke-dasharray="1 1"/>
<line x1="50.58" y1="331.5" x2="62.42" y2="331.5" stroke="#c4c4c4" stroke-width="1"/>
<rect x="44.3" y="275.3" width="23.7" height="24.2" fill="#f9b27c" stroke="#e29a64" stroke-width="0.8"/>
<line x1="44.3" y1="289.2" x2="68" y2="289.2" stroke="#5e3a1c" stroke-width="1.1"/>
<line x1="85.5" y1="277" x2="85.5" y2="278.4" stroke="#c4c4c4" stroke-width="1" stroke-dasharray="1 1"/>
<line x1="79.38" y1="277.5" x2="91.62" y2="277.5" stroke="#c4c4c4" stroke-width="1"/>
<line x1="85.5" y1="308" x2="85.5" y2="317.5" stroke="#c4c4c4" stroke-width="1" stroke-dasharray="1 1"/>
<line x1="79.38" y1="317.5" x2="91.62" y2="317.5" stroke="#c4c4c4" stroke-width="1"/>
<rect x="73.5" y="278.4" width="24.5" height="29.6" fill="#70b2f4" stroke="#5494d4" stroke-width="0.8"/>
<line x1="73.5" y1="295.2" x2="98" y2="295.2" stroke="#1c2c48" stroke-width="1.1"/>
<line x1="115.5" y1="234" x2="115.5" y2="262.3" stroke="#c4c4c4" stroke-width="1" stroke-dasharray="1 1"/>
<line x1="109.55" y1="234.5" x2="121.45" y2="234.5" stroke="#c4c4c4" stroke-width="1"/>
<line x1="115.5" y1="301" x2="115.5" y2="311.2" stroke="#c4c4c4" stroke-width="1" stroke-dasharray="1 1"/>
<line x1="109.55" y1="311.5" x2="121.45" y2="311.5" stroke="#c4c4c4" stroke-width="1"/>
<rect x="103.1" y="262.3" width="23.8" height="38.9" fill="#e2d8ee" stroke="#b8a8c8" stroke-width="0.8"/>
<line x1="103.1" y1="280.6" x2="126.9" y2="280.6" stroke="#3c3040" stroke-width="1.1"/>
<line x1="144.5" y1="231" x2="144.5" y2="263.2" stroke="#c4c4c4" stroke-width="1" stroke-dasharray="1 1"/>
<line x1="138.45" y1="231.5" x2="150.55" y2="231.5" stroke="#c4c4c4" stroke-width="1"/>
<line x1="144.5" y1="300" x2="144.5" y2="337.8" stroke="#c4c4c4" stroke-width="1" stroke-dasharray="1 1"/>
<line x1="138.45" y1="337.5" x2="150.55" y2="337.5" stroke="#c4c4c4" stroke-width="1"/>
<rect x="132.4" y="263.2" width="24.2" height="36.8" fill="#f0f3dc" stroke="#c4c8b4" stroke-width="0.8"/>
<line x1="132.4" y1="288.4" x2="156.6" y2="288.4" stroke="#3c4030" stroke-width="1.1"/>
<line x1="217.5" y1="232" x2="217.5" y2="270.6" stroke="#c4c4c4" stroke-width="1" stroke-dasharray="1 1"/>
<line x1="211.5" y1="231.5" x2="223.5" y2="231.5" stroke="#c4c4c4" stroke-width="1"/>
<line x1="217.5" y1="298" x2="217.5" y2="334.3" stroke="#c4c4c4" stroke-width="1" stroke-dasharray="1 1"/>
<line x1="211.5" y1="334.5" x2="223.5" y2="334.5" stroke="#c4c4c4" stroke-width="1"/>
<rect x="205.3" y="270.6" width="24" height="27.4" fill="#f9b27c" stroke="#e29a64" stroke-width="0.8"/>
<line x1="205.3" y1="284.6" x2="229.3" y2="284.6" stroke="#5e3a1c" stroke-width="1.1"/>
<line x1="246.5" y1="245" x2="246.5" y2="267.9" stroke="#c4c4c4" stroke-width="1" stroke-dasharray="1 1"/>
<line x1="240.52" y1="245.5" x2="252.48" y2="245.5" stroke="#c4c4c4" stroke-width="1"/>
<line x1="246.5" y1="315" x2="246.5" y2="323.9" stroke="#c4c4c4" stroke-width="1" stroke-dasharray="1 1"/>
<line x1="240.52" y1="323.5" x2="252.48" y2="323.5" stroke="#c4c4c4" stroke-width="1"/>
<rect x="234.7" y="267.9" width="23.9" height="47.4" fill="#70b2f4" stroke="#5494d4" stroke-width="0.8"/>
<line x1="234.7" y1="297.4" x2="258.6" y2="297.4" stroke="#1c2c48" stroke-width="1.1"/>
<line x1="276.5" y1="276" x2="276.5" y2="292.2" stroke="#c4c4c4" stroke-width="1" stroke-dasharray="1 1"/>
<line x1="270.5" y1="275.5" x2="282.5" y2="275.5" stroke="#c4c4c4" stroke-width="1"/>
<line x1="276.5" y1="312" x2="276.5" y2="338.4" stroke="#c4c4c4" stroke-width="1" stroke-dasharray="1 1"/>
<line x1="270.5" y1="338.5" x2="282.5" y2="338.5" stroke="#c4c4c4" stroke-width="1"/>
<rect x="264.1" y="292.2" width="24" height="20.2" fill="#e2d8ee" stroke="#b8a8c8" stroke-width="0.8"/>
<line x1="264.1" y1="302.1" x2="288.1" y2="302.1" stroke="#3c3040" stroke-width="1.1"/>
<line x1="305.5" y1="240" x2="305.5" y2="269" stroke="#c4c4c4" stroke-width="1" stroke-dasharray="1 1"/>
<line x1="299.4" y1="240.5" x2="311.6" y2="240.5" stroke="#c4c4c4" stroke-width="1"/>
<line x1="305.5" y1="312" x2="305.5" y2="338.4" stroke="#c4c4c4" stroke-width="1" stroke-dasharray="1 1"/>
<line x1="299.4" y1="338.5" x2="311.6" y2="338.5" stroke="#c4c4c4" stroke-width="1"/>
<rect x="293.3" y="269" width="24.4" height="43.2" fill="#f0f3dc" stroke="#c4c8b4" stroke-width="0.8"/>
<line x1="293.3" y1="299.5" x2="317.7" y2="299.5" stroke="#3c4030" stroke-width="1.1"/>
<line x1="375.5" y1="232" x2="375.5" y2="269.6" stroke="#c4c4c4" stroke-width="1" stroke-dasharray="1 1"/>
<line x1="369.6" y1="231.5" x2="381.4" y2="231.5" stroke="#c4c4c4" stroke-width="1"/>
<line x1="375.5" y1="296" x2="375.5" y2="331.7" stroke="#c4c4c4" stroke-width="1" stroke-dasharray="1 1"/>
<line x1="369.6" y1="331.5" x2="381.4" y2="331.5" stroke="#c4c4c4" stroke-width="1"/>
<rect x="363.4" y="269.6" width="23.6" height="26.2" fill="#f9b27c" stroke="#e29a64" stroke-width="0.8"/>
<line x1="363.4" y1="284.2" x2="387" y2="284.2" stroke="#5e3a1c" stroke-width="1.1"/>
<line x1="404.5" y1="258" x2="404.5" y2="268.1" stroke="#c4c4c4" stroke-width="1" stroke-dasharray="1 1"/>
<line x1="398.65" y1="258.5" x2="410.35" y2="258.5" stroke="#c4c4c4" stroke-width="1"/>
<line x1="404.5" y1="301" x2="404.5" y2="339" stroke="#c4c4c4" stroke-width="1" stroke-dasharray="1 1"/>
<line x1="398.65" y1="339.5" x2="410.35" y2="339.5" stroke="#c4c4c4" stroke-width="1"/>
<rect x="393" y="268.1" width="23.4" height="33" fill="#70b2f4" stroke="#5494d4" stroke-width="0.8"/>
<line x1="393" y1="291.4" x2="416.4" y2="291.4" stroke="#1c2c48" stroke-width="1.1"/>
<line x1="434.5" y1="254" x2="434.5" y2="265.6" stroke="#c4c4c4" stroke-width="1" stroke-dasharray="1 1"/>
<line x1="428.48" y1="253.5" x2="440.52" y2="253.5" stroke="#c4c4c4" stroke-width="1"/>
<line x1="434.5" y1="293" x2="434.5" y2="308.7" stroke="#c4c4c4" stroke-width="1" stroke-dasharray="1 1"/>
<line x1="428.48" y1="308.5" x2="440.52" y2="308.5" stroke="#c4c4c4" stroke-width="1"/>
<rect x="422.1" y="265.6" width="24.1" height="27.7" fill="#e2d8ee" stroke="#b8a8c8" stroke-width="0.8"/>
<line x1="422.1" y1="277.1" x2="446.2" y2="277.1" stroke="#3c3040" stroke-width="1.1"/>
<line x1="463.5" y1="249" x2="463.5" y2="265.6" stroke="#c4c4c4" stroke-width="1" stroke-dasharray="1 1"/>
<line x1="457.48" y1="249.5" x2="469.52" y2="249.5" stroke="#c4c4c4" stroke-width="1"/>
<line x1="463.5" y1="290" x2="463.5" y2="314.9" stroke="#c4c4c4" stroke-width="1" stroke-dasharray="1 1"/>
<line x1="457.48" y1="314.5" x2="469.52" y2="314.5" stroke="#c4c4c4" stroke-width="1"/>
<rect x="451.3" y="265.6" width="24.1" height="24" fill="#f0f3dc" stroke="#c4c8b4" stroke-width="0.8"/>
<line x1="451.3" y1="278.3" x2="475.4" y2="278.3" stroke="#3c4030" stroke-width="1.1"/>
<path d="M45,97 L45,94.2 Q45,92.7 46.5,92.7 L56.3,92.7 Q57.8,92.7 57.8,89.6 Q57.8,92.7 59.3,92.7 L69.1,92.7 Q70.6,92.7 70.6,94.2 L70.6,97" fill="none" stroke="#4f81bd" stroke-width="1"/>
<path d="M75.4,91.5 L75.4,88.8 Q75.4,87.3 76.9,87.3 L86.6,87.3 Q88.1,87.3 88.1,84.2 Q88.1,87.3 89.6,87.3 L99.3,87.3 Q100.8,87.3 100.8,88.8 L100.8,91.5" fill="none" stroke="#4f81bd" stroke-width="1"/>
<path d="M104.2,100.2 L104.2,97.7 Q104.2,96.2 105.7,96.2 L115.4,96.2 Q116.9,96.2 116.9,93 Q116.9,96.2 118.4,96.2 L128.1,96.2 Q129.6,96.2 129.6,97.7 L129.6,100.2" fill="none" stroke="#4f81bd" stroke-width="1"/>
<path d="M133.2,70.6 L133.2,68.3 Q133.2,66.8 134.7,66.8 L144.35,66.8 Q145.85,66.8 145.85,63.4 Q145.85,66.8 147.35,66.8 L157,66.8 Q158.5,66.8 158.5,68.3 L158.5,70.6" fill="none" stroke="#4f81bd" stroke-width="1"/>
<path d="M202.5,79.2 L202.5,77.1 Q202.5,75.6 204,75.6 L213.7,75.6 Q215.2,75.6 215.2,72.3 Q215.2,75.6 216.7,75.6 L226.4,75.6 Q227.9,75.6 227.9,77.1 L227.9,79.2" fill="none" stroke="#4f81bd" stroke-width="1"/>
<path d="M235.2,72.2 L235.2,70 Q235.2,68.5 236.7,68.5 L246.4,68.5 Q247.9,68.5 247.9,65 Q247.9,68.5 249.4,68.5 L259.1,68.5 Q260.6,68.5 260.6,70 L260.6,72.2" fill="none" stroke="#4f81bd" stroke-width="1"/>
<path d="M264.3,80 L264.3,77.8 Q264.3,76.3 265.8,76.3 L275.2,76.3 Q276.7,76.3 276.7,72.9 Q276.7,76.3 278.2,76.3 L287.6,76.3 Q289.1,76.3 289.1,77.8 L289.1,80" fill="none" stroke="#4f81bd" stroke-width="1"/>
<path d="M292.7,67.8 L292.7,65.6 Q292.7,64.1 294.2,64.1 L303.75,64.1 Q305.25,64.1 305.25,60.9 Q305.25,64.1 306.75,64.1 L316.3,64.1 Q317.8,64.1 317.8,65.6 L317.8,67.8" fill="none" stroke="#4f81bd" stroke-width="1"/>
<path d="M362.7,70.4 L362.7,68.3 Q362.7,66.8 364.2,66.8 L373.6,66.8 Q375.1,66.8 375.1,63.6 Q375.1,66.8 376.6,66.8 L386,66.8 Q387.5,66.8 387.5,68.3 L387.5,70.4" fill="none" stroke="#4f81bd" stroke-width="1"/>
<path d="M391.5,74.4 L391.5,72.8 Q391.5,71.3 393,71.3 L402.15,71.3 Q403.65,71.3 403.65,67.6 Q403.65,71.3 405.15,71.3 L414.3,71.3 Q415.8,71.3 415.8,72.8 L415.8,74.4" fill="none" stroke="#4f81bd" stroke-width="1"/>
<path d="M419.7,70.4 L419.7,68.3 Q419.7,66.8 421.2,66.8 L430.6,66.8 Q432.1,66.8 432.1,63.8 Q432.1,66.8 433.6,66.8 L443,66.8 Q444.5,66.8 444.5,68.3 L444.5,70.4" fill="none" stroke="#4f81bd" stroke-width="1"/>
<path d="M452.6,66.4 L452.6,64.4 Q452.6,62.9 454.1,62.9 L463.7,62.9 Q465.2,62.9 465.2,59.6 Q465.2,62.9 466.7,62.9 L476.3,62.9 Q477.8,62.9 477.8,64.4 L477.8,66.4" fill="none" stroke="#4f81bd" stroke-width="1"/>
<path d="M39.8,264.2 L39.8,257.7 Q39.8,256.2 41.3,256.2 L97.2,256.2 Q98.7,256.2 98.7,248.7 Q98.7,256.2 100.2,256.2 L156.5,256.2 Q158,256.2 158,257.7 L158,264.2" fill="none" stroke="#4f81bd" stroke-width="1"/>
<path d="M207.1,264.6 L207.1,257.9 Q207.1,256.4 208.6,256.4 L261.2,256.4 Q262.7,256.4 262.7,248.5 Q262.7,256.4 264.2,256.4 L315.8,256.4 Q317.3,256.4 317.3,257.9 L317.3,264.6" fill="none" stroke="#4f81bd" stroke-width="1"/>
<path d="M366.7,264 L366.7,257.8 Q366.7,256.3 368.2,256.3 L420.6,256.3 Q422.1,256.3 422.1,248.5 Q422.1,256.3 423.6,256.3 L476,256.3 Q477.5,256.3 477.5,257.8 L477.5,264" fill="none" stroke="#4f81bd" stroke-width="1"/>
<text x="46" y="79.05" font-size="6.8" text-anchor="start" fill="#303030" font-weight="normal" font-style="italic" textLength="17.8" lengthAdjust="spacingAndGlyphs">P&lt;0.05</text>
<text x="82.7" y="77.15" font-size="6.8" text-anchor="start" fill="#303030" font-weight="normal" font-style="italic" textLength="8.1" lengthAdjust="spacingAndGlyphs">n.s.</text>
<text x="109" y="83.95" font-size="6.8" text-anchor="start" fill="#303030" font-weight="normal" font-style="italic" textLength="17.8" lengthAdjust="spacingAndGlyphs">P&lt;0.05</text>
<text x="136.5" y="57.65" font-size="6.8" text-anchor="start" fill="#303030" font-weight="normal" font-style="italic" textLength="17.7" lengthAdjust="spacingAndGlyphs">P&lt;0.05</text>
<text x="202.9" y="67.35" font-size="6.8" text-anchor="start" fill="#303030" font-weight="normal" font-style="italic" textLength="18.4" lengthAdjust="spacingAndGlyphs">P&lt;0.05</text>
<text x="235.8" y="62.15" font-size="6.8" text-anchor="start" fill="#303030" font-weight="normal" font-style="italic" textLength="18" lengthAdjust="spacingAndGlyphs">P&lt;0.05</text>
<text x="265.4" y="70.05" font-size="6.8" text-anchor="start" fill="#303030" font-weight="normal" font-style="italic" textLength="17.8" lengthAdjust="spacingAndGlyphs">P&lt;0.05</text>
<text x="295.7" y="58.75" font-size="6.8" text-anchor="start" fill="#303030" font-weight="normal" font-style="italic" textLength="18" lengthAdjust="spacingAndGlyphs">P&lt;0.05</text>
<text x="370.8" y="60.15" font-size="6.8" text-anchor="start" fill="#303030" font-weight="normal" font-style="italic" textLength="8.1" lengthAdjust="spacingAndGlyphs">n.s.</text>
<text x="398.6" y="61.95" font-size="6.8" text-anchor="start" fill="#303030" font-weight="normal" font-style="italic" textLength="8.1" lengthAdjust="spacingAndGlyphs">n.s.</text>
<text x="428.9" y="58.35" font-size="6.8" text-anchor="start" fill="#303030" font-weight="normal" font-style="italic" textLength="9" lengthAdjust="spacingAndGlyphs">n.s.</text>
<text x="461.6" y="55.75" font-size="6.8" text-anchor="start" fill="#303030" font-weight="normal" font-style="italic" textLength="8.1" lengthAdjust="spacingAndGlyphs">n.s.</text>
<text x="94.8" y="241.95" font-size="6.8" text-anchor="start" fill="#303030" font-weight="normal" font-style="italic" textLength="8.7" lengthAdjust="spacingAndGlyphs">n.s.</text>
<text x="258.3" y="244.05" font-size="6.8" text-anchor="start" fill="#303030" font-weight="normal" font-style="italic" textLength="8.6" lengthAdjust="spacingAndGlyphs">n.s.</text>
<text x="416.3" y="242.55" font-size="6.8" text-anchor="start" fill="#303030" font-weight="normal" font-style="italic" textLength="8.7" lengthAdjust="spacingAndGlyphs">n.s.</text>
<text x="185.8" y="20.79" font-size="7.5" text-anchor="start" fill="#111" font-weight="bold" font-style="normal" textLength="168.4" lengthAdjust="spacingAndGlyphs">Values at baseline and 4 weeks post treatment</text>
<text x="150.5" y="209.49" font-size="7.5" text-anchor="start" fill="#111" font-weight="bold" font-style="normal" textLength="244.1" lengthAdjust="spacingAndGlyphs">Absolute differences between baseline and 4 weeks post treatment</text>
</svg>
</body></html>
